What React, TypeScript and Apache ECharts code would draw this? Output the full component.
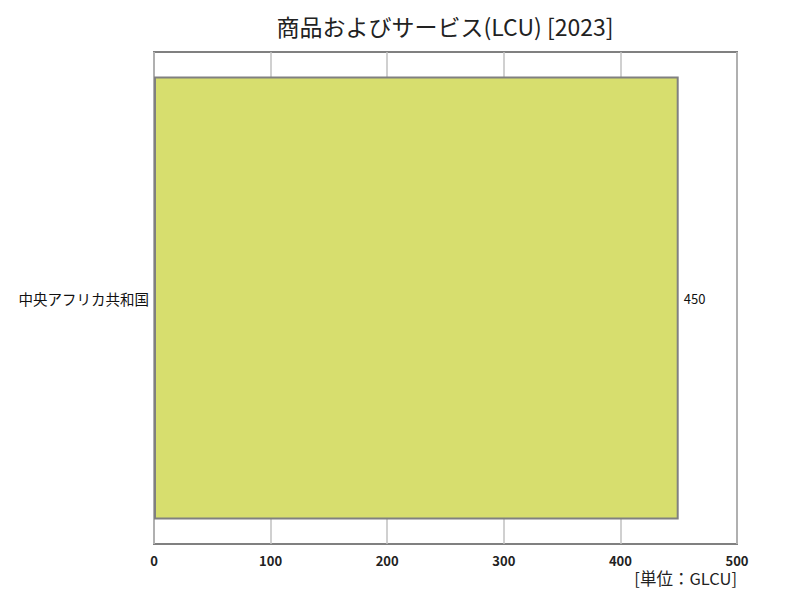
import React, { useEffect, useRef } from "react";
import * as echarts from "echarts";

const categories = ["中央アフリカ共和国"];
const values = [450];
const titleText = "商品およびサービス(LCU) [2023]";
const unitText = "[単位：GLCU]";
const xMin = 0;
const xMax = 500;
const xInterval = 100;

const FONT = "'Noto Sans CJK JP', 'Noto Sans', sans-serif";

export default function App() {
  const ref = useRef<HTMLDivElement>(null);
  useEffect(() => {
    if (!ref.current) return;
    const chart = echarts.init(ref.current, undefined, { renderer: "svg" });
    chart.setOption({
      animation: false,
      backgroundColor: "#ffffff",
      title: {
        text: titleText,
        left: 440,
        textAlign: "center",
        top: 9,
        textStyle: { fontFamily: FONT, fontSize: 23, fontWeight: "normal", color: "#222" },
      },
      graphic: [
        {
          type: "text",
          right: 63,
          top: 570,
          style: { text: unitText, fontFamily: FONT, fontSize: 16.5, fill: "#222" },
        },
      ],
      grid: { left: 154, right: 63, top: 52, bottom: 56, show: true, borderColor: "#808080", borderWidth: 2, backgroundColor: "transparent" },
      xAxis: {
        type: "value",
        min: xMin,
        max: xMax,
        interval: xInterval,
        axisLine: { show: false },
        axisTick: { show: false },
        splitLine: { show: true, lineStyle: { color: "#c0c0c0", width: 1.5 } },
        axisLabel: { fontFamily: FONT, fontSize: 13, fontWeight: "bold", color: "#222", margin: 10 },
      },
      yAxis: {
        type: "category",
        data: categories,
        axisLine: { show: false },
        axisTick: { show: false },
        axisLabel: { fontFamily: FONT, fontSize: 14.5, color: "#111", margin: 5 },
      },
      series: [
        {
          type: "bar",
          data: values,
          barWidth: "90%",
          itemStyle: { color: "#d7de6e", borderColor: "#808080", borderWidth: 2 },
          label: {
            show: true,
            position: "right",
            distance: 5,
            fontFamily: FONT,
            fontSize: 13,
            color: "#111",
          },
        },
      ],
    });
    return () => chart.dispose();
  }, []);
  return <div ref={ref} style={{ width: 800, height: 600, position: "absolute", left: 0, top: 0 }} />;
}
